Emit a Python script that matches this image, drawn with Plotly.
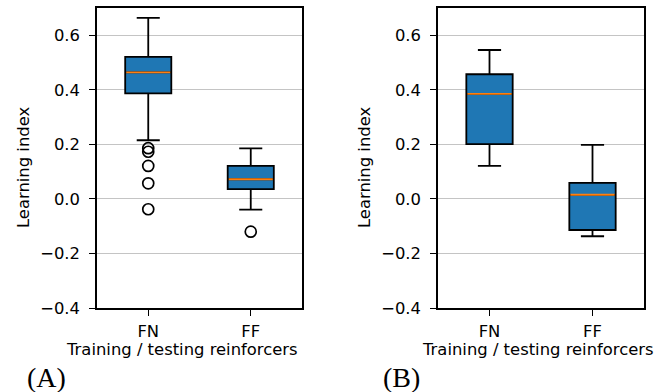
import plotly.graph_objects as go

W, H = 655, 392

categories = ["FN", "FF"]
positions = [1, 2]

# Panel A stats: lowerfence, q1, median, q3, upperfence
a_lower = [0.215, -0.039]
a_q1 = [0.387, 0.036]
a_median = [0.464, 0.072]
a_q3 = [0.521, 0.121]
a_upper = [0.664, 0.185]
a_outliers = [[0.186, 0.173, 0.121, 0.057, -0.038], [-0.12]]

# Panel B stats
b_lower = [0.121, -0.137]
b_q1 = [0.201, -0.114]
b_median = [0.385, 0.015]
b_q3 = [0.457, 0.059]
b_upper = [0.546, 0.198]
b_outliers = [[], []]

ytick_vals = [-0.4, -0.2, 0.0, 0.2, 0.4, 0.6]
ytick_text = ["\u22120.4", "\u22120.2", "0.0", "0.2", "0.4", "0.6"]

BOX_W = 0.45
BLUE = "#1f77b4"
ORANGE = "#ff7f0e"
FONT = "DejaVu Sans, sans-serif"
FS = 16.4

fig = go.Figure()


def add_panel(xa, ya, lower, q1, med, q3, upper, outliers):
    for i, pos in enumerate(positions):
        fig.add_trace(go.Box(
            x=[pos], q1=[q1[i]], median=[med[i]], q3=[q3[i]],
            lowerfence=[lower[i]], upperfence=[upper[i]],
            width=BOX_W, whiskerwidth=0.5, boxpoints=False,
            fillcolor=BLUE, line=dict(color="black", width=1.8),
            xaxis=xa, yaxis=ya, showlegend=False, hoverinfo="skip"))
        fig.add_trace(go.Scatter(
            x=[pos - BOX_W / 2 + 0.01, pos + BOX_W / 2 - 0.01], y=[med[i], med[i]],
            mode="lines", line=dict(color=ORANGE, width=1.9),
            xaxis=xa, yaxis=ya, showlegend=False, hoverinfo="skip"))
        if outliers[i]:
            fig.add_trace(go.Scatter(
                x=[pos] * len(outliers[i]), y=outliers[i], mode="markers",
                marker=dict(symbol="circle-open", size=11, color="black",
                            line=dict(width=1.7, color="black")),
                xaxis=xa, yaxis=ya, showlegend=False, hoverinfo="skip"))


add_panel("x", "y", a_lower, a_q1, a_median, a_q3, a_upper, a_outliers)
add_panel("x2", "y2", b_lower, b_q1, b_median, b_q3, b_upper, b_outliers)

xcommon = dict(range=[0.5, 2.5], tickvals=positions, ticktext=categories,
               showline=True, mirror=True, linecolor="black", linewidth=1.5,
               ticks="outside", ticklen=6, tickwidth=1.3, tickcolor="black",
               showgrid=False, zeroline=False, ticklabelstandoff=2,
               tickfont=dict(family=FONT, size=FS, color="black"))
ycommon = dict(range=[-0.4, 0.7], tickvals=ytick_vals, ticktext=ytick_text,
               showline=True, mirror=True, linecolor="black", linewidth=1.5,
               ticks="outside", ticklen=6, tickwidth=1.3, tickcolor="black",
               showgrid=True, gridcolor="#c4c4c4", gridwidth=1.2, zeroline=False,
               ticklabelstandoff=6,
               tickfont=dict(family=FONT, size=FS, color="black"))

fig.update_layout(
    width=W, height=H,
    margin=dict(l=0, r=0, t=8, b=84),
    paper_bgcolor="white", plot_bgcolor="white",
    xaxis=dict(domain=[97 / W, 302 / W], anchor="y", **xcommon),
    yaxis=dict(domain=[0, 1], anchor="x", **ycommon),
    xaxis2=dict(domain=[438 / W, 644 / W], anchor="y2", **xcommon),
    yaxis2=dict(domain=[0, 1], anchor="x2", **ycommon),
)

annots = [
    dict(text="Learning index", x=23 / W, y=(308 - 167) / 300, textangle=-90),
    dict(text="Learning index", x=364 / W, y=(308 - 167) / 300, textangle=-90),
    dict(text="Training / testing reinforcers", x=182 / W, y=-0.137, textangle=0),
    dict(text="Training / testing reinforcers", x=538 / W, y=-0.137, textangle=0),
]
for a in annots:
    fig.add_annotation(text=a["text"], x=a["x"], y=a["y"], xref="paper", yref="paper",
                       showarrow=False, textangle=a["textangle"],
                       xanchor="center", yanchor="middle",
                       font=dict(family=FONT, size=FS, color="black"))

for lab, xl in [("(A)", 25 / W), ("(B)", 381 / W)]:
    fig.add_annotation(text=lab, x=xl, y=-0.232, xref="paper", yref="paper",
                       showarrow=False, xanchor="left", yanchor="middle",
                       font=dict(family="Liberation Serif, Times New Roman, serif",
                                 size=28, color="black"))

fig.write_html("out.html")
